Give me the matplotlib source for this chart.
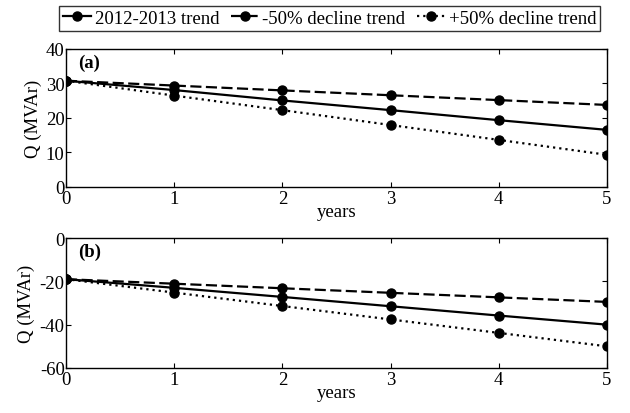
import matplotlib
matplotlib.use("Agg")
from matplotlib import pyplot as plt

# Data
years = [0, 1, 2, 3, 4, 5]
labels = ["2012-2013 trend", "-50% decline trend", "+50% decline trend"]

# (a) top panel
q_a_trend = [30.7, 28.0, 25.0, 22.2, 19.3, 16.5]
q_a_minus50 = [30.7, 29.3, 27.9, 26.5, 25.1, 23.7]
q_a_plus50 = [30.7, 26.4, 22.2, 17.9, 13.6, 9.3]

# (b) bottom panel
q_b_trend = [-19.0, -23.0, -27.2, -31.5, -35.8, -40.0]
q_b_minus50 = [-19.0, -21.1, -23.2, -25.3, -27.4, -29.5]
q_b_plus50 = [-19.0, -25.2, -31.4, -37.6, -43.8, -50.0]

plt.rcParams["font.family"] = ["Liberation Serif", "DejaVu Serif"]
plt.rcParams["font.size"] = 13
plt.rcParams["axes.unicode_minus"] = False

fig = plt.figure(figsize=(6.3, 4.14), dpi=100)
ax_a = fig.add_axes([0.1048, 0.5459, 0.8587, 0.3345])
ax_b = fig.add_axes([0.1048, 0.1087, 0.8587, 0.3140])

dash_styles = [(None, None), (5, 2), (1, 1.8)]
line_kw = dict(color="black", marker="o", markersize=6.5, linewidth=1.6)


def draw(ax, series, yticks, tag):
    handles = []
    for vals, ds, lab in zip(series, dash_styles, labels):
        if ds[0] is None:
            h, = ax.plot(years, vals, linestyle="-", label=lab, **line_kw)
        else:
            h, = ax.plot(years, vals, linestyle=(0, ds), label=lab, **line_kw)
        handles.append(h)
    ax.set_xlim(0, 5)
    ax.set_ylim(yticks[0], yticks[-1])
    ax.set_xticks(years)
    ax.set_yticks(yticks)
    ax.tick_params(direction="in", top=True, right=True, length=3.5, labelsize=13.5)
    ax.tick_params(axis="x", pad=2)
    ax.tick_params(axis="y", pad=1)
    ax.set_ylabel("Q (MVAr)", fontsize=13.5, labelpad=3)
    ax.set_xlabel("years", fontsize=13.5, labelpad=-3)
    ax.text(0.022, 0.9, tag, transform=ax.transAxes, fontweight="bold",
            fontsize=13.5, va="center", ha="left")
    for sp in ax.spines.values():
        sp.set_linewidth(1.0)
    return handles


handles = draw(ax_a, [q_a_trend, q_a_minus50, q_a_plus50], [0, 10, 20, 30, 40], "(a)")
draw(ax_b, [q_b_trend, q_b_minus50, q_b_plus50], [-60, -40, -20, 0], "(b)")

leg = fig.legend(handles=handles, loc="center", bbox_to_anchor=(0.523, 0.953), ncol=3,
                 fontsize=13.5, frameon=True, fancybox=False, edgecolor="black",
                 handlelength=1.5, handletextpad=0.2, columnspacing=0.6,
                 borderpad=0.2, borderaxespad=0)
leg.get_frame().set_linewidth(1.0)

fig.savefig("out.png", dpi=100)
